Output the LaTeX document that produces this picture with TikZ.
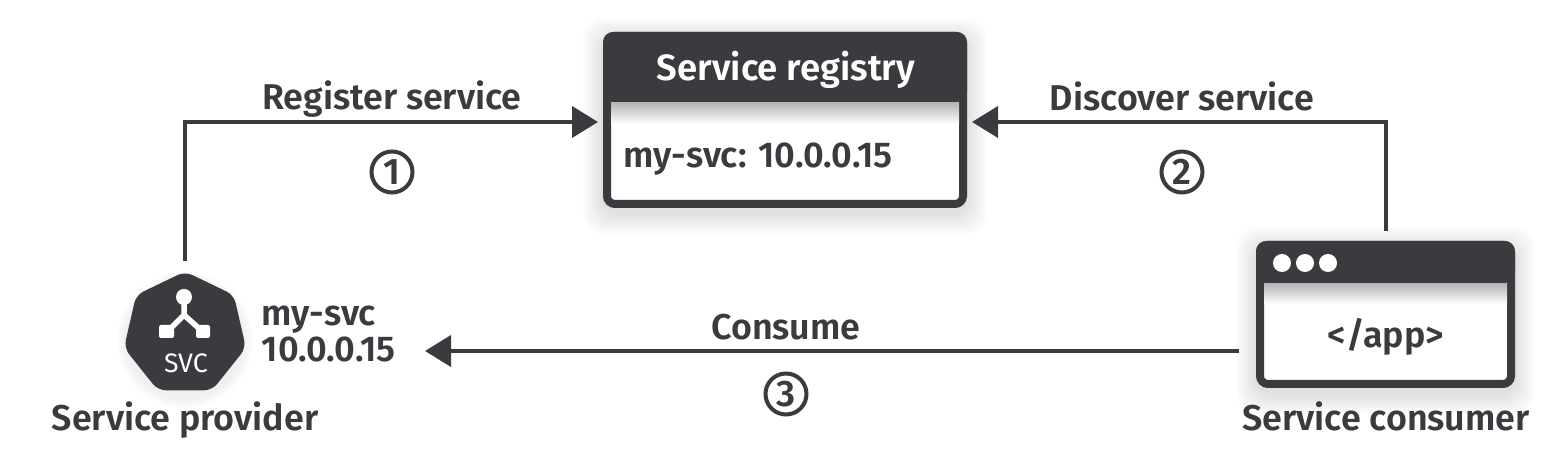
\documentclass[tikz,border=0pt]{standalone}
\usepackage{fontspec}
\setmainfont{Fira Sans}[BoldFont={Fira Sans SemiBold}]
\usetikzlibrary{calc, shapes.geometric, arrows.meta}

\definecolor{darkbox}{HTML}{3A3B3F}
\newcommand{\softshadow}[4]{%
	\foreach \s in {0.2,0.18,...,0}{
		\fill[black, opacity=0.012, rounded corners=0.2cm] ($(#1,#2)+(-\s,-\s-0.06)$) rectangle ($(#3,#4)+(\s,\s-0.06)$);
	}
}
\tikzset{
	lbl/.style={text=darkbox, font=\fontsize{10.2}{12}\selectfont\bfseries, inner sep=0pt, anchor=base},
	flow/.style={draw=darkbox, line width=0.04cm, -{Triangle[length=0.26cm, width=0.31cm]}},
	boxframe/.style={rectangle, draw=darkbox, fill=white, line width=0.08cm, rounded corners=0.08cm, inner sep=0pt},
	stepnum/.style={circle, draw=darkbox, line width=0.04cm, text=darkbox, minimum size=0.41cm, inner sep=0pt, font=\fontsize{10.5}{12}\selectfont\bfseries},
}

\begin{document}
\begin{tikzpicture}
	\useasboundingbox (0,0) rectangle (15.52,4.62);
	
	% registry
	\softshadow{6.03}{2.54}{9.67}{4.30}
	\node[boxframe, minimum width=3.56cm, minimum height=1.68cm] (registry) at (7.85,3.42) {};
	\shade[top color=black!30, bottom color=white] (6.11,3.60) rectangle (9.59,3.38);
	\fill[darkbox, rounded corners=0.1cm] (6.03,3.60) -- (6.03,4.30) -- (9.67,4.30) -- (9.67,3.60) -- cycle;
	\node[lbl, text=white, font=\fontsize{10.4}{12}\selectfont\bfseries] (regtitle) at (7.86,3.81) {Service registry};
	\node[lbl, anchor=base west] (regentry) at (6.23,2.94) {my-svc: 10.0.0.15};
	
	% provider
	\foreach \s in {0.1,0.08,...,0}{
		\fill[black, opacity=0.012] (1.85,1.22) circle (0.58+\s);
	}
	\node[regular polygon, regular polygon sides=7, minimum size=1.25cm, fill=darkbox, rounded corners=0.08cm, inner sep=0pt] (svc) at (1.85,1.28) {};
	\fill[white] (1.84,1.65) circle (0.08);
	\draw[white, line width=0.055cm] (1.84,1.65) -- (1.84,1.47) -- (1.67,1.30) (1.84,1.47) -- (2.03,1.30);
	\fill[white, rounded corners=0.02cm] (1.59,1.24) rectangle (1.74,1.37);
	\fill[white, rounded corners=0.02cm] (1.96,1.24) rectangle (2.10,1.37);
	\node[lbl, text=white, font=\fontsize{7.6}{9}\selectfont] (svctext) at (1.86,0.89) {SVC};
	\node[lbl, anchor=base west] (svcname) at (2.61,1.36) {my-svc};
	\node[lbl, anchor=base west] (svcip) at (2.61,1.00) {10.0.0.15};
	\node[lbl] (provider) at (1.85,0.31) {Service provider};
	
	% consumer
	\softshadow{12.56}{0.74}{15.15}{2.21}
	\node[boxframe, minimum width=2.51cm, minimum height=1.39cm] (consumer) at (13.855,1.475) {};
	\shade[top color=black!30, bottom color=white] (12.64,1.79) rectangle (15.07,1.58);
	\fill[darkbox, rounded corners=0.1cm] (12.56,1.79) -- (12.56,2.21) -- (15.15,2.21) -- (15.15,1.79) -- cycle;
	\foreach \i in {0,1,2}{
		\fill[white] ($(12.82,1.99)+(\i*0.23,0)$) circle (0.09);
	}
	\node[lbl] (app) at (13.86,1.14) {</app>};
	\node[lbl] (consumerlbl) at (13.86,0.31) {Service consumer};
	
	% connectors
	\coordinate (regL) at ($(registry.west)+(-0.05,-0.02)$);
	\coordinate (regR) at ($(registry.east)+(0.05,-0.02)$);
	\coordinate (svcR) at (4.25,1.11);
	\draw[flow, shorten <=0.1cm] (svc.north) |- (regL);
	\draw[flow, shorten <=0.1cm] (consumer.north) |- (regR);
	\draw[flow, shorten <=0.17cm] (consumer.west |- svcR) -- (svcR);
	
	\node[lbl] (reglbl) at (3.92,3.52) {Register service};
	\node[lbl] (dislbl) at (11.82,3.51) {Discover service};
	\node[lbl] (conslbl) at (7.86,1.22) {Consume};
	\node[stepnum] (one) at (3.92,2.90) {1};
	\node[stepnum] (two) at (11.82,2.90) {2};
	\node[stepnum] (three) at (7.86,0.68) {3};
	
\end{tikzpicture}
\end{document}
